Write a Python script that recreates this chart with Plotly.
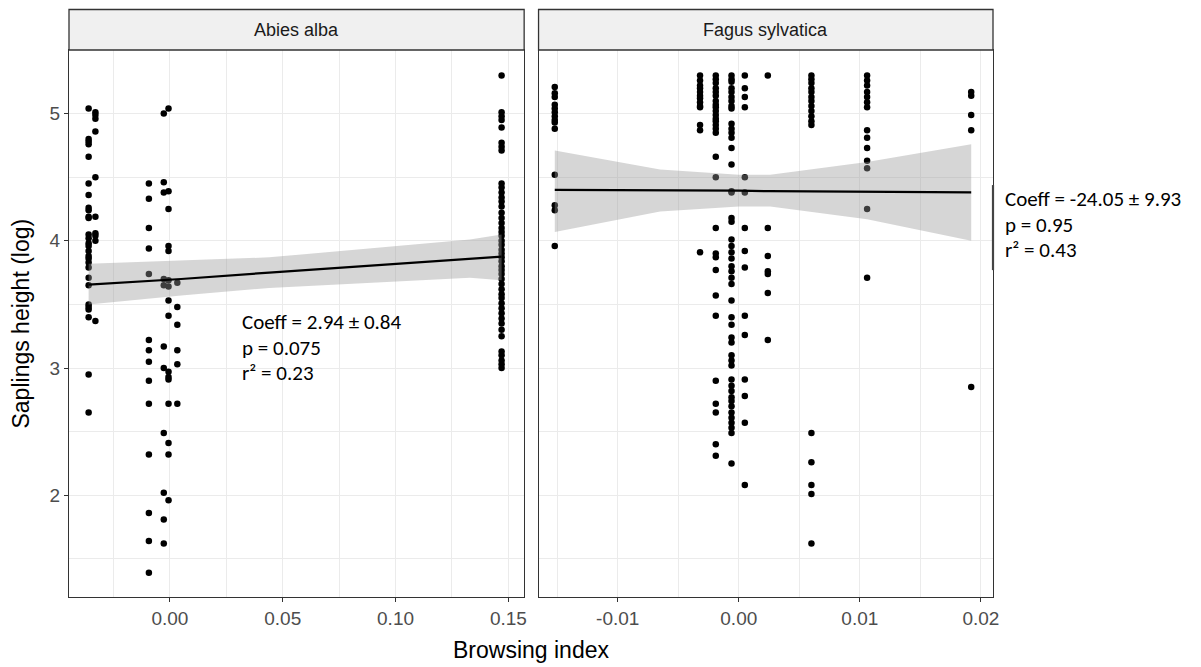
import plotly.graph_objects as go

# ---------------- data ----------------
# Abies alba: browsing index levels and sapling heights (log) at each level
abies_levels = [-0.036, -0.033, -0.0093, -0.0027, -0.0006, 0.0033, 0.147]
abies_h_a = [5.04, 4.80, 4.78, 4.76, 4.66, 4.45, 4.36, 4.26, 4.24, 4.19, 4.18, 4.05, 4.02, 3.98,
             3.96, 3.92, 3.88, 3.86, 3.83, 3.79, 3.71, 3.65, 3.50, 3.48, 3.46, 3.40, 2.95, 2.65]
abies_h_b = [5.01, 4.99, 4.96, 4.86, 4.50, 4.19, 4.06, 4.04, 4.00, 3.37]
abies_h_c = [4.45, 4.33, 4.10, 3.94, 3.74, 3.22, 3.14, 3.05, 2.90, 2.72, 2.32, 1.86, 1.64, 1.39]
abies_h_d = [5.00, 4.46, 4.38, 3.70, 3.65, 3.17, 3.00, 2.49, 2.02, 1.81, 1.62]
abies_h_e = [5.04, 4.39, 4.25, 3.96, 3.92, 3.69, 3.64, 3.53, 3.41, 2.97, 2.93, 2.91, 2.72,
             2.41, 2.32, 1.96]
abies_h_f = [3.67, 3.48, 3.34, 3.14, 3.03, 2.72]
abies_h_g = [5.30, 5.01, 4.98, 4.95, 4.89, 4.77, 4.74, 4.71, 4.45, 4.42, 4.38, 4.34, 4.31, 4.27,
             4.22, 4.18, 4.14, 4.10, 4.07, 4.04, 4.00, 3.97, 3.93, 3.90, 3.87, 3.84, 3.80, 3.77,
             3.74, 3.70, 3.66, 3.62, 3.58, 3.55, 3.51, 3.47, 3.43, 3.39, 3.35, 3.30, 3.25, 3.13,
             3.10, 3.06, 3.03, 3.00]
abies_heights = [abies_h_a, abies_h_b, abies_h_c, abies_h_d, abies_h_e, abies_h_f, abies_h_g]

# Fagus sylvatica
fagus_levels = [-0.0152, -0.0032, -0.0019, -0.0006, 0.0005, 0.0024, 0.0060, 0.0106, 0.0192]
fagus_h_a = [5.21, 5.16, 5.13, 5.07, 5.04, 5.01, 4.98, 4.95, 4.93, 4.88, 4.52, 4.28, 4.24, 3.96]
fagus_h_b = [5.30, 5.26, 5.22, 5.20, 5.17, 5.14, 5.12, 5.09, 5.06, 5.05, 4.91, 4.87, 3.91]
fagus_h_c = [5.30, 5.27, 5.24, 5.20, 5.17, 5.14, 5.10, 5.07, 5.05, 5.02, 4.99, 4.96, 4.94, 4.91,
             4.88, 4.85, 4.66, 4.50, 4.10, 3.90, 3.87, 3.77, 3.57, 3.41, 2.90, 2.72, 2.65, 2.40,
             2.31]
fagus_h_d = [5.30, 5.27, 5.25, 5.20, 5.17, 5.13, 5.10, 5.06, 5.04, 4.92, 4.88, 4.85, 4.81, 4.73,
             4.60, 4.39, 4.38, 4.18, 4.15, 4.01, 3.96, 3.91, 3.86, 3.80, 3.76, 3.71, 3.66, 3.53,
             3.40, 3.34, 3.24, 3.20, 3.10, 3.06, 3.02, 2.91, 2.86, 2.82, 2.77, 2.74, 2.70, 2.65,
             2.61, 2.57, 2.53, 2.49, 2.25]
fagus_h_e = [5.30, 5.20, 5.13, 5.05, 4.50, 4.38, 4.10, 3.92, 3.79, 3.41, 3.26, 2.91, 2.78, 2.57,
             2.08]
fagus_h_f = [5.30, 4.10, 3.88, 3.76, 3.74, 3.59, 3.22]
fagus_h_g = [5.30, 5.27, 5.24, 5.20, 5.17, 5.13, 5.10, 5.06, 5.02, 4.98, 4.94, 4.91, 2.49, 2.26,
             2.08, 2.01, 1.62]
fagus_h_h = [5.30, 5.26, 5.22, 5.17, 5.13, 5.09, 5.05, 4.87, 4.81, 4.73, 4.63, 4.57, 4.25, 3.71]
fagus_h_i = [5.17, 5.14, 4.99, 4.87, 2.85]
fagus_heights = [fagus_h_a, fagus_h_b, fagus_h_c, fagus_h_d, fagus_h_e, fagus_h_f, fagus_h_g,
                 fagus_h_h, fagus_h_i]

# Linear fits with confidence bands
abies_fit_x = [-0.036, 0.005, 0.044, 0.133, 0.147]
abies_fit_y = [3.655, 3.70, 3.75, 3.86, 3.875]
abies_fit_hi = [3.82, 3.845, 3.87, 4.01, 4.05]
abies_fit_lo = [3.50, 3.57, 3.63, 3.71, 3.69]

fagus_fit_x = [-0.0152, -0.0065, 0.0, 0.0026, 0.0106, 0.0192]
fagus_fit_y = [4.40, 4.40, 4.395, 4.39, 4.385, 4.38]
fagus_fit_hi = [4.71, 4.56, 4.52, 4.52, 4.62, 4.76]
fagus_fit_lo = [4.07, 4.23, 4.27, 4.27, 4.17, 4.00]

panel_titles = ["Abies alba", "Fagus sylvatica"]
abies_ticks = [0.0, 0.05, 0.10, 0.15]
abies_ticktext = ["0.00", "0.05", "0.10", "0.15"]
fagus_ticks = [-0.01, 0.0, 0.01, 0.02]
fagus_ticktext = ["-0.01", "0.00", "0.01", "0.02"]
y_ticks = [2, 3, 4, 5]

abies_stats = ["Coeff = 2.94 ± 0.84", "p = 0.075", "r² = 0.23"]
fagus_stats = ["Coeff = -24.05 ± 9.93", "p = 0.95", "r² = 0.43"]

# ---------------- figure ----------------
OFF = 8  # page body margin
W, H = 1201, 667
L = 69 - OFF
T = 50 - OFF
RIGHT = 993.3 - OFF
BOTTOM = 596.7 - OFF
R = W - RIGHT
B = H - BOTTOM
plot_w = RIGHT - L
plot_h = BOTTOM - T


def px_x(p):
    return (p - OFF - L) / plot_w


def px_y(p):
    return 1 - (p - OFF - T) / plot_h


fig = go.Figure()


def flat(levels, heights):
    xs, ys = [], []
    for lv, hs in zip(levels, heights):
        xs += [lv] * len(hs)
        ys += hs
    return xs, ys


band_fill = "rgba(153,153,153,0.4)"
for (levels, heights, fx, fy, fhi, flo, xa, ya) in [
    (abies_levels, abies_heights, abies_fit_x, abies_fit_y, abies_fit_hi, abies_fit_lo, "x", "y"),
    (fagus_levels, fagus_heights, fagus_fit_x, fagus_fit_y, fagus_fit_hi, fagus_fit_lo, "x2", "y2"),
]:
    xs, ys = flat(levels, heights)
    fig.add_trace(go.Scatter(x=xs, y=ys, mode="markers", xaxis=xa, yaxis=ya,
                             marker=dict(color="black", size=6.5), showlegend=False))
    fig.add_trace(go.Scatter(x=fx, y=flo, mode="lines", xaxis=xa, yaxis=ya,
                             line=dict(width=0, color=band_fill), showlegend=False))
    fig.add_trace(go.Scatter(x=fx, y=fhi, mode="lines", xaxis=xa, yaxis=ya, fill="tonexty",
                             fillcolor=band_fill, line=dict(width=0, color=band_fill),
                             showlegend=False))
    fig.add_trace(go.Scatter(x=fx, y=fy, mode="lines", xaxis=xa, yaxis=ya,
                             line=dict(color="black", width=2.2), showlegend=False))

dom1 = [0, px_x(524.3)]
dom2 = [px_x(538.7), 1]

grid_c = "#EBEBEB"
tick_font = dict(family="Liberation Sans, Arial", size=19, color="#4D4D4D")
axis_common = dict(showline=True, linecolor="#333333", linewidth=1.3, mirror=True,
                   tickcolor="#333333", tickwidth=1.1, ticklen=4,
                   showgrid=True, gridcolor=grid_c, gridwidth=1.2, zeroline=False,
                   tickfont=tick_font)
minor_y = dict(showgrid=True, gridcolor=grid_c, gridwidth=1, tickmode="linear",
               tick0=0, dtick=0.5, ticks="")

fig.update_layout(
    width=W, height=H,
    margin=dict(l=L, r=R, t=T, b=B),
    paper_bgcolor="white", plot_bgcolor="white",
    xaxis=dict(domain=dom1, range=[-0.0447, 0.157], tickmode="array", tickvals=abies_ticks,
               ticktext=abies_ticktext, anchor="y", ticks="outside",
               minor=dict(showgrid=True, gridcolor=grid_c, gridwidth=1, tickmode="linear",
                          tick0=0, dtick=0.025, ticks=""),
               **axis_common),
    xaxis2=dict(domain=dom2, range=[-0.01654, 0.0210], tickmode="array", tickvals=fagus_ticks,
                ticktext=fagus_ticktext, anchor="y2", ticks="outside",
                minor=dict(showgrid=True, gridcolor=grid_c, gridwidth=1, tickmode="linear",
                           tick0=0, dtick=0.005, ticks=""),
                **axis_common),
    yaxis=dict(domain=[0, 1], range=[1.2, 5.5], tickmode="array", tickvals=y_ticks,
               anchor="x", ticks="outside", minor=minor_y, **axis_common),
    yaxis2=dict(domain=[0, 1], range=[1.2, 5.5], tickmode="array", tickvals=y_ticks,
                showticklabels=False, anchor="x2", matches="y", ticks="",
                minor=minor_y, **axis_common),
)

# strips
strip_h = (50 - 9.5) / plot_h
for dom, title in zip([dom1, dom2], panel_titles):
    fig.add_shape(type="rect", xref="paper", yref="paper", x0=dom[0], x1=dom[1],
                  y0=1, y1=1 + strip_h, fillcolor="#F0F0F0",
                  line=dict(color="#333333", width=1.3), layer="above")
    fig.add_annotation(xref="paper", yref="paper", x=(dom[0] + dom[1]) / 2,
                       y=1 + strip_h / 2, text=title, showarrow=False,
                       font=dict(family="Liberation Sans, Arial", size=18, color="#1A1A1A"),
                       xanchor="center", yanchor="middle")

# darker border segment next to the right-hand stats text
fig.add_shape(type="line", xref="paper", yref="paper", x0=1, x1=1,
              y0=px_y(270), y1=px_y(185), line=dict(color="#444444", width=2.2))

# axis titles
fig.add_annotation(xref="paper", yref="paper", x=0.5, y=px_y(650),
                   text="Browsing index", showarrow=False, xanchor="center", yanchor="middle",
                   font=dict(family="Liberation Sans, Arial", size=23, color="black"))
fig.add_annotation(xref="paper", yref="paper", x=px_x(20), y=0.5,
                   text="Saplings height (log)", showarrow=False, textangle=-90,
                   xanchor="center", yanchor="middle",
                   font=dict(family="Liberation Sans, Arial", size=23, color="black"))

# stats text, one annotation per line
stat_font = dict(family="Carlito, Lato, Open Sans", size=21, color="black")
for i, line in enumerate(abies_stats):
    fig.add_annotation(xref="paper", yref="paper", x=px_x(240), y=px_y(322 + 25.5 * i),
                       text=line, showarrow=False, xanchor="left", yanchor="middle",
                       font=stat_font)
for i, line in enumerate(fagus_stats):
    fig.add_annotation(xref="paper", yref="paper", x=px_x(1003), y=px_y(199 + 25.5 * i),
                       text=line, showarrow=False, xanchor="left", yanchor="middle",
                       font=stat_font)

fig.write_html("out.html")
